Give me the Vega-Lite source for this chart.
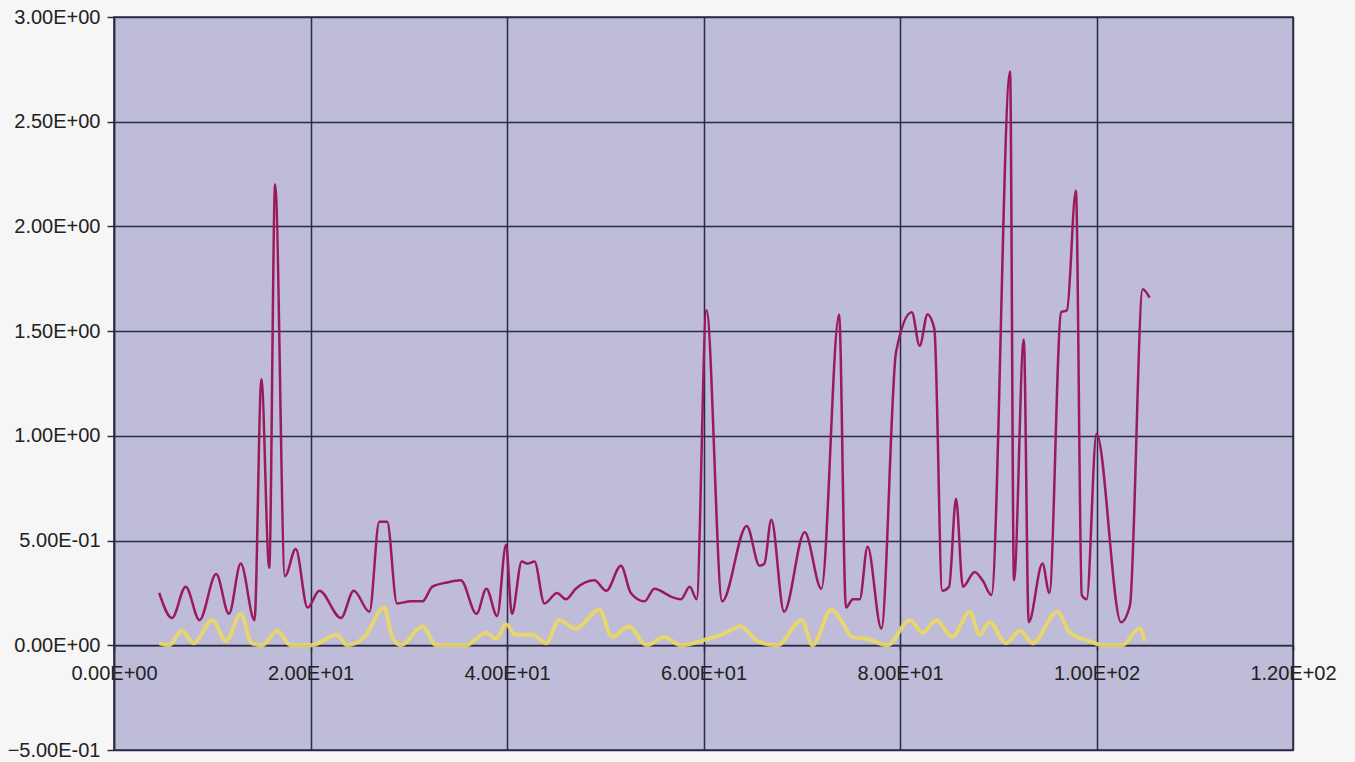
{
  "$schema": "https://vega.github.io/schema/vega-lite/v6.json",
  "autosize": {"type": "none"},
  "padding": {"left": 114, "top": 17, "right": 62, "bottom": 12},
  "width": 1179,
  "height": 733,
  "background": "#f6f6f6",
  "config": {
    "view": {"fill": "#bebcd8", "stroke": "#2b2b45", "strokeWidth": 1.5},
    "axis": {
      "labelFont": "Liberation Sans",
      "labelFontSize": 20,
      "labelColor": "#222222",
      "gridColor": "#2b2b45",
      "gridWidth": 1.5,
      "gridOpacity": 1,
      "domainColor": "#2b2b45",
      "domainWidth": 1.5,
      "tickColor": "#2b2b45",
      "tickWidth": 1.5,
      "title": null
    }
  },
  "datasets": {
    "red": [
      {"x": 4.6, "y": 0.25}, {"x": 5.9, "y": 0.13}, {"x": 7.3, "y": 0.28}, {"x": 8.7, "y": 0.12},
      {"x": 10.4, "y": 0.34}, {"x": 11.7, "y": 0.15}, {"x": 12.9, "y": 0.39}, {"x": 14.3, "y": 0.12},
      {"x": 15.0, "y": 1.27}, {"x": 15.8, "y": 0.37}, {"x": 16.4, "y": 2.2}, {"x": 17.4, "y": 0.33},
      {"x": 18.5, "y": 0.46}, {"x": 19.7, "y": 0.18}, {"x": 20.9, "y": 0.26}, {"x": 23.1, "y": 0.13},
      {"x": 24.4, "y": 0.26}, {"x": 26.0, "y": 0.16}, {"x": 27.0, "y": 0.59}, {"x": 27.8, "y": 0.59},
      {"x": 28.8, "y": 0.2}, {"x": 30.2, "y": 0.21}, {"x": 31.4, "y": 0.21}, {"x": 32.4, "y": 0.28},
      {"x": 33.9, "y": 0.3}, {"x": 35.3, "y": 0.31}, {"x": 36.9, "y": 0.15}, {"x": 37.9, "y": 0.27},
      {"x": 39.0, "y": 0.14}, {"x": 39.9, "y": 0.48}, {"x": 40.5, "y": 0.15}, {"x": 41.5, "y": 0.4},
      {"x": 42.1, "y": 0.39}, {"x": 42.8, "y": 0.4}, {"x": 43.8, "y": 0.2}, {"x": 45.1, "y": 0.25},
      {"x": 46.0, "y": 0.22}, {"x": 47.0, "y": 0.27}, {"x": 48.9, "y": 0.31}, {"x": 50.1, "y": 0.26},
      {"x": 51.6, "y": 0.38}, {"x": 52.6, "y": 0.25}, {"x": 54.0, "y": 0.21}, {"x": 55.0, "y": 0.27},
      {"x": 56.8, "y": 0.23}, {"x": 57.7, "y": 0.22}, {"x": 58.6, "y": 0.28}, {"x": 59.3, "y": 0.22},
      {"x": 60.3, "y": 1.6}, {"x": 61.9, "y": 0.21}, {"x": 64.4, "y": 0.57}, {"x": 65.7, "y": 0.38},
      {"x": 66.2, "y": 0.39}, {"x": 66.9, "y": 0.6}, {"x": 68.2, "y": 0.16}, {"x": 70.3, "y": 0.54},
      {"x": 72.0, "y": 0.27}, {"x": 73.8, "y": 1.58}, {"x": 74.5, "y": 0.18}, {"x": 75.2, "y": 0.22},
      {"x": 75.9, "y": 0.22}, {"x": 76.7, "y": 0.47}, {"x": 78.1, "y": 0.08}, {"x": 79.6, "y": 1.4},
      {"x": 81.2, "y": 1.59}, {"x": 82.0, "y": 1.43}, {"x": 82.8, "y": 1.58}, {"x": 83.5, "y": 1.51},
      {"x": 84.3, "y": 0.26}, {"x": 85.0, "y": 0.28}, {"x": 85.7, "y": 0.7}, {"x": 86.4, "y": 0.28},
      {"x": 87.6, "y": 0.35}, {"x": 88.4, "y": 0.31}, {"x": 89.3, "y": 0.24}, {"x": 91.2, "y": 2.74},
      {"x": 91.6, "y": 0.31}, {"x": 92.6, "y": 1.46}, {"x": 93.1, "y": 0.11}, {"x": 94.5, "y": 0.39},
      {"x": 95.2, "y": 0.25}, {"x": 96.4, "y": 1.59}, {"x": 97.0, "y": 1.6}, {"x": 97.9, "y": 2.17},
      {"x": 98.5, "y": 0.24}, {"x": 99.0, "y": 0.22}, {"x": 100.0, "y": 1.01}, {"x": 102.5, "y": 0.11},
      {"x": 103.4, "y": 0.19}, {"x": 104.7, "y": 1.7}, {"x": 105.4, "y": 1.66}
    ],
    "yellow": [
      {"x": 4.6, "y": 0.01}, {"x": 5.6, "y": 0.0}, {"x": 6.9, "y": 0.07}, {"x": 8.1, "y": 0.01},
      {"x": 10.0, "y": 0.12}, {"x": 11.4, "y": 0.02}, {"x": 12.9, "y": 0.15}, {"x": 14.0, "y": 0.01},
      {"x": 15.1, "y": 0.0}, {"x": 16.6, "y": 0.07}, {"x": 18.0, "y": 0.0}, {"x": 20.1, "y": 0.0},
      {"x": 22.7, "y": 0.05}, {"x": 23.7, "y": 0.0}, {"x": 25.5, "y": 0.04}, {"x": 27.5, "y": 0.18},
      {"x": 28.3, "y": 0.04}, {"x": 29.2, "y": 0.0}, {"x": 31.4, "y": 0.09}, {"x": 32.8, "y": 0.0},
      {"x": 35.8, "y": 0.0}, {"x": 37.9, "y": 0.06}, {"x": 38.9, "y": 0.03}, {"x": 39.9, "y": 0.1},
      {"x": 40.9, "y": 0.05}, {"x": 42.6, "y": 0.05}, {"x": 44.0, "y": 0.01}, {"x": 45.3, "y": 0.12},
      {"x": 47.0, "y": 0.08}, {"x": 49.4, "y": 0.17}, {"x": 50.7, "y": 0.04}, {"x": 52.4, "y": 0.09},
      {"x": 54.2, "y": 0.0}, {"x": 56.0, "y": 0.04}, {"x": 57.7, "y": 0.0}, {"x": 60.4, "y": 0.03},
      {"x": 61.8, "y": 0.05}, {"x": 63.8, "y": 0.09}, {"x": 65.5, "y": 0.02}, {"x": 67.5, "y": 0.0},
      {"x": 70.0, "y": 0.12}, {"x": 71.1, "y": 0.0}, {"x": 73.0, "y": 0.17}, {"x": 74.0, "y": 0.12},
      {"x": 75.1, "y": 0.04}, {"x": 76.7, "y": 0.03}, {"x": 78.7, "y": 0.0}, {"x": 81.0, "y": 0.12},
      {"x": 82.3, "y": 0.06}, {"x": 83.7, "y": 0.12}, {"x": 85.3, "y": 0.04}, {"x": 87.1, "y": 0.16},
      {"x": 88.1, "y": 0.05}, {"x": 89.1, "y": 0.11}, {"x": 90.8, "y": 0.01}, {"x": 92.2, "y": 0.07},
      {"x": 93.5, "y": 0.01}, {"x": 96.0, "y": 0.16}, {"x": 97.3, "y": 0.06}, {"x": 99.3, "y": 0.02},
      {"x": 100.6, "y": 0.0}, {"x": 102.6, "y": 0.0}, {"x": 104.4, "y": 0.08}, {"x": 104.9, "y": 0.02}
    ]
  },
  "encoding": {
    "x": {
      "field": "x", "type": "quantitative",
      "scale": {"domain": [0, 120], "nice": false, "zero": false},
      "axis": {
        "values": [0, 20, 40, 60, 80, 100, 120],
        "offset": -104.7,
        "tickSize": 5,
        "labelPadding": 13,
        "labelExpr": "replace(replace(upper(format(datum.value,'.2e')),'E+','E+0'),'E-','E-0')",
        "labelOverlap": false,
        "labelFlush": false
      }
    },
    "y": {
      "field": "y", "type": "quantitative",
      "scale": {"domain": [-0.5, 3], "nice": false, "zero": false},
      "axis": {
        "values": [-0.5, 0, 0.5, 1, 1.5, 2, 2.5, 3],
        "tickSize": 7,
        "labelPadding": 7,
        "labelExpr": "replace(replace(upper(format(datum.value,'.2e')),'E+','E+0'),'E-','E-0')",
        "labelOverlap": false,
        "labelFlush": false
      }
    }
  },
  "layer": [
    {
      "data": {"name": "red"},
      "mark": {"type": "line", "interpolate": "monotone", "color": "#9b1b5a", "strokeWidth": 2.5}
    },
    {
      "data": {"name": "yellow"},
      "mark": {"type": "line", "interpolate": "monotone", "color": "#ead862", "strokeWidth": 4, "opacity": 0.9}
    }
  ]
}
